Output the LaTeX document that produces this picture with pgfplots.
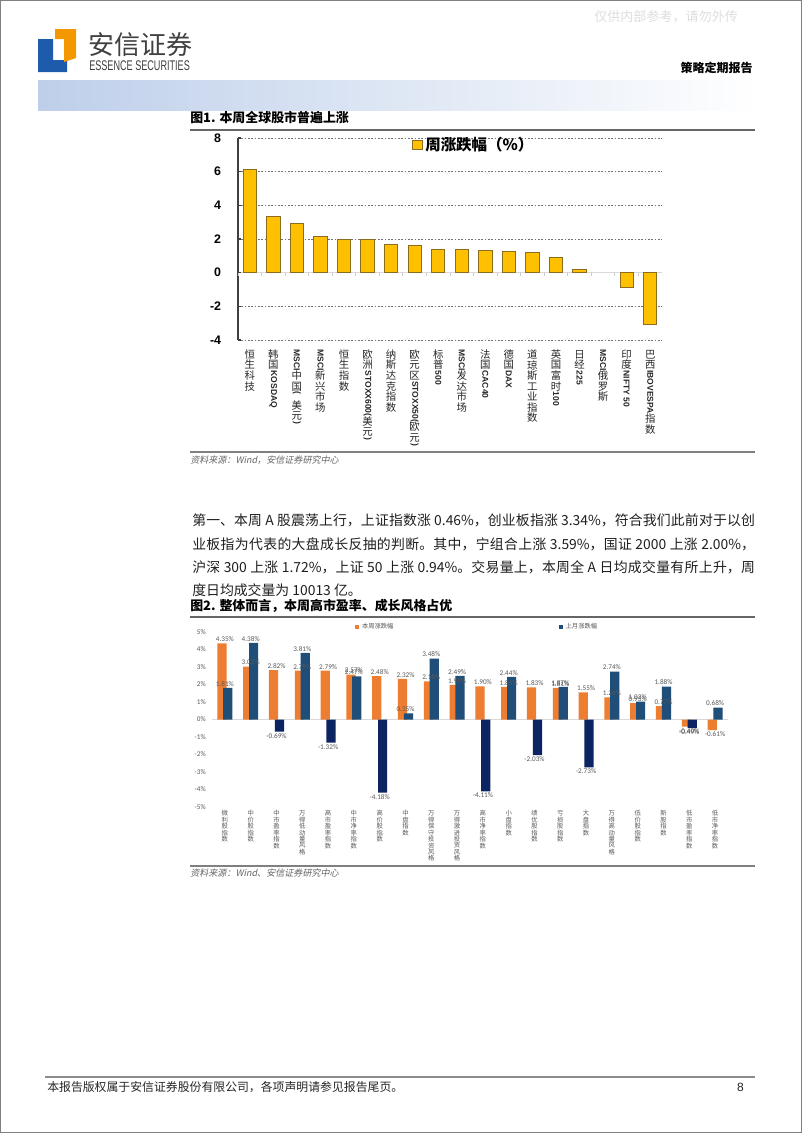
\documentclass[border=0pt]{standalone}
\usepackage{fontspec}
\usepackage{graphicx}
\usepackage{pgfplots}
\pgfplotsset{compat=1.18}
\setmainfont{Noto Sans CJK SC}
\newfontfamily\cjki{Noto Sans CJK SC}[FakeSlant=0.2]
\newfontfamily\arial{Liberation Sans}
\newfontfamily\carl{Carlito}
\XeTeXlinebreaklocale "zh"
\XeTeXlinebreakskip=0pt plus 1pt

\definecolor{gold}{HTML}{FFC000}
\definecolor{goldedge}{HTML}{8C6D1F}
\definecolor{orng}{HTML}{ED7D31}
\definecolor{navy}{HTML}{1F4E79}
\definecolor{dnavy}{HTML}{0C2461}
\definecolor{txtgray}{HTML}{595959}
\definecolor{logoblue}{HTML}{1E5BAA}
\definecolor{logoorange}{HTML}{F39800}

\newcommand\vl[1]{\vbox{\offinterlineskip #1}}
\newcommand\C[1]{\hbox to 1.2em{\hss\vrule height .82em depth .18em width 0pt#1\hss}}
\newcommand\R[1]{\hbox to 1.2em{\hss\raisebox{0.8em}{\rotatebox{-90}{\arial\bfseries\fontsize{6.4pt}{6.4pt}\selectfont #1}}\hss}}

\pgfplotstableread{
x y
0 6.15
1 3.35
2 2.93
3 2.17
4 2.00
5 1.97
6 1.68
7 1.62
8 1.37
9 1.36
10 1.33
11 1.28
12 1.22
13 0.93
14 0.18
16 -0.89
17 -3.10
}\weekdata

\begin{document}
\begin{tikzpicture}
\useasboundingbox (0,0) rectangle (601.5pt,-849.75pt);
\fill[white] (0,0) rectangle (601.5pt,-849.75pt);
\begin{scope}[x=0.75pt,y=-0.75pt]
\draw[black!50, line width=0.75pt] (0.5,0.5) rectangle (801.5,1132.5);
% watermark
\node[anchor=west, inner sep=0pt, text=black!13, font=\fontsize{9.8pt}{10pt}\selectfont] at (594,17) {仅供内部参考，请勿外传};
% logo
\fill[logoblue] (38,39) -- (53,39) -- (53,60) -- (67,60) -- (67,72) -- (38,72) -- cycle;
\fill[logoorange] (55,29) -- (76,29) -- (76,58) -- (64,62) -- (64,39) -- (55,39) -- cycle;
\node[anchor=west, inner sep=0pt, text=black!75, font=\fontsize{19.5pt}{20pt}\selectfont] at (88,45) {安信证券};
\node[anchor=west, inner sep=0pt, text=black!75] at (89,66) {\scalebox{0.65}[1]{\arial\fontsize{10.5pt}{11pt}\selectfont ESSENCE SECURITIES}};
\node[anchor=east, inner sep=0pt, font=\bfseries\fontsize{9pt}{9pt}\selectfont] at (753,68) {策略定期报告};
\shade[left color={rgb,255:red,190;green,207;blue,234}, right color=white] (38,80) rectangle (760,110);
% chart 1 frame texts
\node[anchor=west, inner sep=0pt, font=\bfseries\fontsize{9.7pt}{10pt}\selectfont] at (190,118) {图1. 本周全球股市普遍上涨};
\draw[black!60, line width=0.9pt] (190,130) -- (755,130);
\draw[black!50, line width=1.1pt] (190,452) -- (755,452);
\node[anchor=west, inner sep=0pt, text=black!60, font=\cjki\fontsize{6.8pt}{7pt}\selectfont] at (190,460) {资料来源：Wind，安信证券研究中心};
% paragraph
\node[anchor=north west, inner sep=0pt, text width=422pt, align=justify, text=black!88, font=\fontsize{10.4pt}{17.4pt}\selectfont] at (192,514) {第一、本周 A 股震荡上行，上证指数涨 0.46\%，创业板指涨 3.34\%，符合我们此前对于以创\linebreak 业板指为代表的大盘成长反抽的判断。其中，宁组合上涨 3.59\%，国证 2000 上涨 2.00\%，\linebreak 沪深 300 上涨 1.72\%，上证 50 上涨 0.94\%。交易量上，本周全 A 日均成交量有所上升，周\linebreak 度日均成交量为 10013 亿。};
% chart 2 frame texts
\node[anchor=west, inner sep=0pt, font=\bfseries\fontsize{9.7pt}{10pt}\selectfont] at (190,606) {图2. 整体而言，本周高市盈率、成长风格占优};
\draw[black!60, line width=0.9pt] (190,617) -- (755,617);
\draw[black!50, line width=1.1pt] (190,866) -- (755,866);
\node[anchor=west, inner sep=0pt, text=black!60, font=\cjki\fontsize{6.8pt}{7pt}\selectfont] at (190,873) {资料来源：Wind、安信证券研究中心};
% footer
\draw[black!45, line width=0.9pt] (45,1077) -- (755,1077);
\node[anchor=west, inner sep=0pt, text=black!85, font=\fontsize{8.9pt}{9pt}\selectfont] at (47,1087) {本报告版权属于安信证券股份有限公司，各项声明请参见报告尾页。};
\node[anchor=east, inner sep=0pt, text=black!85, font=\arial\fontsize{9pt}{9pt}\selectfont] at (744,1087) {8};
\end{scope}

% ---------------- chart 1 ----------------
\begin{axis}[
  at={(178.5pt,-255pt)}, anchor=south west,
  scale only axis, width=318pt, height=151.5pt,
  xmin=-0.5, xmax=17.5, ymin=-4, ymax=8,
  axis y line*=left, axis x line*=bottom,
  axis line style={-},
  x axis line style={draw=none},
  y axis line style={draw=black!75, line width=1.1pt},
  xtick={0,...,17},
  xtick style={draw=none},
  ytick style={draw=black!75, line width=0.8pt},
  major tick length=2.5pt,
  ytick={-4,-2,2,4,6,8},
  yticklabels={-4,-2,2,4,6,8},
  extra y ticks={0}, extra y tick labels={0},
  extra y tick style={grid=major, major grid style={solid, draw=black!15, line width=0.8pt}},
  ymajorgrids,
  major grid style={draw=black!55, line width=0.6pt, dash pattern=on 1.2pt off 1.3pt},
  yticklabel style={font=\arial\bfseries\fontsize{9.3pt}{9.3pt}\selectfont, inner sep=0pt, xshift=-12.5pt, anchor=east},
  xticklabel style={anchor=north, inner sep=0pt, yshift=-7pt, font=\fontsize{7.8pt}{7.8pt}\selectfont, text=black!85},
  xticklabels={
    {\vl{\C{恒}\C{生}\C{科}\C{技}}},
    {\vl{\C{韩}\C{国}\R{KOSDAQ}}},
    {\vl{\R{MSCI}\C{中}\C{国}\R{(}\C{美}\C{元}\R{)}}},
    {\vl{\R{MSCI}\C{新}\C{兴}\C{市}\C{场}}},
    {\vl{\C{恒}\C{生}\C{指}\C{数}}},
    {\vl{\C{欧}\C{洲}\R{STOXX600(}\C{美}\C{元}\R{)}}},
    {\vl{\C{纳}\C{斯}\C{达}\C{克}\C{指}\C{数}}},
    {\vl{\C{欧}\C{元}\C{区}\R{STOXX50(}\C{欧}\C{元}\R{)}}},
    {\vl{\C{标}\C{普}\R{500}}},
    {\vl{\R{MSCI}\C{发}\C{达}\C{市}\C{场}}},
    {\vl{\C{法}\C{国}\R{CAC40}}},
    {\vl{\C{德}\C{国}\R{DAX}}},
    {\vl{\C{道}\C{琼}\C{斯}\C{工}\C{业}\C{指}\C{数}}},
    {\vl{\C{英}\C{国}\C{富}\C{时}\R{100}}},
    {\vl{\C{日}\C{经}\R{225}}},
    {\vl{\R{MSCI}\C{俄}\C{罗}\C{斯}}},
    {\vl{\C{印}\C{度}\R{NIFTY 50}}},
    {\vl{\C{巴}\C{西}\R{IBOVESPA}\C{指}\C{数}}}
  },
  legend style={draw=none, fill=none, at={(0.41,0.965)}, anchor=west, inner sep=0pt,
    font=\bfseries\fontsize{11.6pt}{11.6pt}\selectfont},
  legend image code/.code={\draw[#1] (0pt,-3.6pt) rectangle (7.2pt,3.6pt);},
]
\addplot[ybar, bar width=10pt, bar shift=0pt, fill=gold, draw=goldedge, line width=0.7pt] table[x=x,y=y] {\weekdata};
\addlegendentry{周涨跌幅（\%）}
\pgfplotsinvokeforeach{-0.5,0.5,...,17.5}{\draw[black!20, line width=0.6pt] (axis cs:#1,0) -- ++(0pt,-2.5pt);}
\end{axis}

% ---------------- chart 2 ----------------
\begin{axis}[
  at={(159pt,-605.25pt)}, anchor=south west,
  scale only axis, width=387pt, height=131.25pt,
  xmin=-0.5, xmax=19.5, ymin=-5, ymax=5,
  axis line style={draw=none},
  major tick length=0pt,
  ytick={-5,-4,-3,-2,-1,0,1,2,3,4,5},
  yticklabels={-5\%,-4\%,-3\%,-2\%,-1\%,0\%,1\%,2\%,3\%,4\%,5\%},
  extra y ticks={0}, extra y tick labels={},
  extra y tick style={grid=major, major grid style={solid, draw=black!15, line width=0.7pt}},
  yticklabel style={font=\carl\fontsize{5.4pt}{5.4pt}\selectfont, text=txtgray, inner sep=0pt, xshift=-4.5pt, anchor=east},
  xtick={0,...,19},
  xticklabel style={anchor=north, inner sep=0pt, yshift=-2.5pt, font=\fontsize{4.75pt}{4.75pt}\selectfont, text=txtgray},
  xticklabels={
    {\vl{\C{微}\C{利}\C{股}\C{指}\C{数}}},
    {\vl{\C{中}\C{价}\C{股}\C{指}\C{数}}},
    {\vl{\C{中}\C{市}\C{盈}\C{率}\C{指}\C{数}}},
    {\vl{\C{万}\C{得}\C{低}\C{动}\C{量}\C{风}\C{格}}},
    {\vl{\C{高}\C{市}\C{盈}\C{率}\C{指}\C{数}}},
    {\vl{\C{中}\C{市}\C{净}\C{率}\C{指}\C{数}}},
    {\vl{\C{高}\C{价}\C{股}\C{指}\C{数}}},
    {\vl{\C{中}\C{盘}\C{指}\C{数}}},
    {\vl{\C{万}\C{得}\C{保}\C{守}\C{投}\C{资}\C{风}\C{格}}},
    {\vl{\C{万}\C{得}\C{激}\C{进}\C{投}\C{资}\C{风}\C{格}}},
    {\vl{\C{高}\C{市}\C{净}\C{率}\C{指}\C{数}}},
    {\vl{\C{小}\C{盘}\C{指}\C{数}}},
    {\vl{\C{绩}\C{优}\C{股}\C{指}\C{数}}},
    {\vl{\C{亏}\C{损}\C{股}\C{指}\C{数}}},
    {\vl{\C{大}\C{盘}\C{指}\C{数}}},
    {\vl{\C{万}\C{得}\C{高}\C{动}\C{量}\C{风}\C{格}}},
    {\vl{\C{低}\C{价}\C{股}\C{指}\C{数}}},
    {\vl{\C{新}\C{股}\C{指}\C{数}}},
    {\vl{\C{低}\C{市}\C{盈}\C{率}\C{指}\C{数}}},
    {\vl{\C{低}\C{市}\C{净}\C{率}\C{指}\C{数}}}
  },
  nodes near coords style={font=\carl\fontsize{5.4pt}{5.4pt}\selectfont, text=txtgray, inner sep=1pt},
  legend columns=2,
  legend style={draw=none, fill=none, at={(0.277,1.027)}, anchor=west, inner sep=0pt,
    font=\fontsize{4.7pt}{4.7pt}\selectfont, text=txtgray,
    /tikz/every even column/.append style={column sep=122pt}},
  legend image code/.code={\fill[#1] (0pt,-1.6pt) rectangle (3.2pt,1.6pt);},
]
\addplot[ybar, bar width=6.9pt, bar shift=-2.2pt, fill=orng, draw=none,
  point meta=explicit symbolic, nodes near coords, every node near coord/.append style={anchor=south}]
  coordinates {(0,4.35) [4.35\%] (1,3.02) [3.02\%] (2,2.82) [2.82\%] (3,2.79) [2.79\%]
  (4,2.79) [2.79\%] (5,2.57) [2.57\%] (6,2.48) [2.48\%] (7,2.32) [2.32\%] (8,2.18) [2.18\%]
  (9,1.98) [1.98\%] (10,1.90) [1.90\%] (11,1.86) [1.86\%] (12,1.83) [1.83\%] (13,1.81) [1.81\%]
  (14,1.55) [1.55\%] (15,1.26) [1.26\%] (16,0.93) [0.93\%] (17,0.77) [0.77\%]};
\addlegendentry{本周涨跌幅}
\addplot[ybar, bar width=6.9pt, bar shift=-2.2pt, fill=orng, draw=none, forget plot,
  point meta=explicit symbolic, nodes near coords, every node near coord/.append style={anchor=north}]
  coordinates {(18,-0.40) [-0.40\%] (19,-0.61) [-0.61\%]};
\addplot[ybar, bar width=6.9pt, bar shift=2.2pt, fill=navy, draw=none,
  point meta=explicit symbolic, nodes near coords, every node near coord/.append style={anchor=south}]
  coordinates {(0,1.81) [1.81\%] (1,4.38) [4.38\%] (3,3.81) [3.81\%] (5,2.47) [2.47\%]
  (7,0.35) [0.35\%] (8,3.48) [3.48\%] (9,2.49) [2.49\%] (11,2.44) [2.44\%] (13,1.87) [1.87\%]
  (15,2.74) [2.74\%] (16,1.02) [1.02\%] (17,1.88) [1.88\%] (19,0.68) [0.68\%]};
\addlegendentry{上月涨跌幅}
\addplot[ybar, bar width=6.9pt, bar shift=2.2pt, fill=dnavy, draw=none, forget plot,
  point meta=explicit symbolic, nodes near coords, every node near coord/.append style={anchor=north}]
  coordinates {(2,-0.69) [-0.69\%] (4,-1.32) [-1.32\%] (6,-4.18) [-4.18\%] (10,-4.11) [-4.11\%]
  (12,-2.03) [-2.03\%] (14,-2.73) [-2.73\%] (18,-0.49) [-0.49\%]};
\end{axis}
\end{tikzpicture}
\end{document}
